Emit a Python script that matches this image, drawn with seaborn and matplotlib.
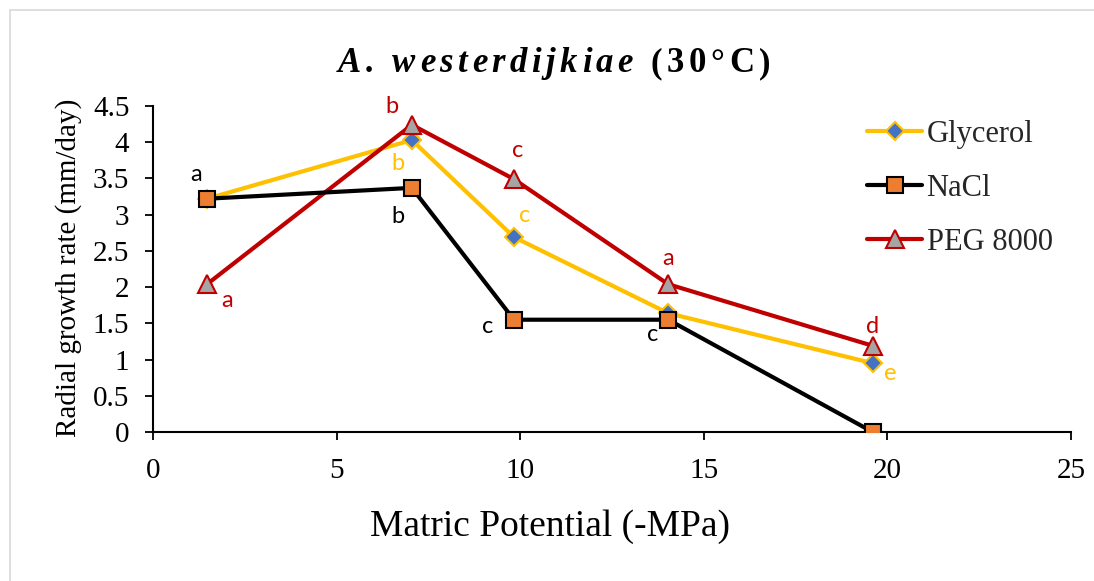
import matplotlib
matplotlib.use("Agg")
import matplotlib.pyplot as plt
import seaborn as sns
import pandas as pd
from matplotlib.patches import Rectangle
from matplotlib.transforms import IdentityTransform

# ---- data ----
matric_potential = [1.47, 7.05, 9.83, 14.03, 19.6]
glycerol = [3.22, 4.03, 2.69, 1.64, 0.95]
nacl = [3.22, 3.37, 1.55, 1.55, 0.0]
peg8000 = [2.04, 4.24, 3.49, 2.04, 1.19]
glycerol_letters = ["", "b", "c", "", "e"]
nacl_letters = ["a", "b", "c", "c", ""]
peg_letters = ["a", "b", "c", "a", "d"]
series_names = ["Glycerol", "NaCl", "PEG 8000"]
x_ticks = [0, 5, 10, 15, 20, 25]
y_ticks = [0, 0.5, 1, 1.5, 2, 2.5, 3, 3.5, 4, 4.5]
title_italic = "A. westerdijkiae"
title_plain = "(30°C)"

sns.set_theme(style="white")
plt.rcParams["font.family"] = ["Liberation Serif", "DejaVu Serif"]

W, H = 1094, 581
fig = plt.figure(figsize=(W / 100, H / 100), dpi=100)
ax = fig.add_axes([153 / W, 1 - 432 / H, (1071 - 153) / W, (432 - 106) / H])

# outer chart border
fig.patches.append(Rectangle((10 / W, -0.05), 1.2, 1 - 10 / H + 0.05, transform=fig.transFigure,
                             fill=False, edgecolor="#d9d9d9", linewidth=1.2))

df = pd.DataFrame({"x": matric_potential * 3,
                   "y": glycerol + nacl + peg8000,
                   "series": sum([[n] * len(matric_potential) for n in series_names], [])})

styles = {
    "Glycerol": dict(color="#FFC000", marker="D", markerfacecolor="#4472C4",
                     markeredgecolor="#FFC000", markersize=9, markeredgewidth=1.5),
    "NaCl": dict(color="black", marker="s", markerfacecolor="#ED7D31",
                 markeredgecolor="black", markersize=11.5, markeredgewidth=1.5),
    "PEG 8000": dict(color="#C00000", marker="^", markerfacecolor="#A5A5A5",
                     markeredgecolor="#C00000", markersize=12.5, markeredgewidth=1.5),
}
order_draw = ["Glycerol", "PEG 8000", "NaCl"]
handles = {}
for name in order_draw:
    sub = df[df["series"] == name]
    sns.lineplot(data=sub, x="x", y="y", ax=ax, linewidth=3, label=name,
                 estimator=None, sort=False, zorder=3, **styles[name])
    handles[name] = ax.get_lines()[-1]

# significance letters
offsets = {
    "Glycerol": [(0, 0), (-14, -23), (11, 22), (0, 0), (18, -10)],
    "NaCl": [(-11, 24), (-14, -29), (-26, -7), (-16, -15), (0, 0)],
    "PEG 8000": [(20, -16), (-20, 18), (4, 29), (0, 26), (0, 19)],
}
letters = {"Glycerol": glycerol_letters, "NaCl": nacl_letters, "PEG 8000": peg_letters}
values = {"Glycerol": glycerol, "NaCl": nacl, "PEG 8000": peg8000}
for name in series_names:
    for xi, yi, lab, off in zip(matric_potential, values[name], letters[name], offsets[name]):
        if lab:
            ax.annotate(lab, (xi, yi), xytext=off, textcoords="offset pixels",
                        ha="center", va="center", fontsize=17, color=styles[name]["color"],
                        family=["Lato", "DejaVu Sans"], zorder=5)

ax.set_xlim(0, 25)
ax.set_ylim(0, 4.5)
ax.set_xticks(x_ticks)
ax.set_yticks(y_ticks)
ax.set_xticklabels([str(t) for t in x_ticks])
ax.set_yticklabels([f"{t:g}" for t in y_ticks])
ax.tick_params(axis="both", which="major", direction="out", length=6, width=1.3,
               colors="black", labelsize=21, bottom=True, left=True)
ax.tick_params(axis="x", pad=13)
ax.tick_params(axis="y", pad=11)
for s in ["top", "right"]:
    ax.spines[s].set_visible(False)
for s in ["left", "bottom"]:
    ax.spines[s].set_color("black")
    ax.spines[s].set_linewidth(1.5)
ax.set_facecolor("white")

ax.set_xlabel("Matric Potential (-MPa)", fontsize=27, color="black", va="center")
ax.xaxis.set_label_coords((550 - 153) / 918, (432 - 527) / 326)
ax.set_ylabel("Radial growth rate (mm/day)", fontsize=21, color="black", va="center")
ax.yaxis.set_label_coords((69 - 153) / 918, (432 - 268) / 326)

leg = ax.legend(handles=[handles[n] for n in series_names], labels=series_names,
                loc="upper left", bbox_to_anchor=((867 - 153) / 918, (432 - 120) / 326),
                frameon=False, borderaxespad=0, borderpad=0,
                fontsize=22, handlelength=1.8, handletextpad=0.15, labelspacing=0.82)

# letter-spaced title drawn character by character (pixel coordinates)
renderer = fig.canvas.get_renderer()
title_fs = 25
spacing = 4.5
space_w = 9
chars = [(c, "italic") for c in title_italic] + [(" ", "normal")] + [(c, "normal") for c in title_plain]
widths = []
for c, st in chars:
    if c == " ":
        widths.append(space_w)
        continue
    t = fig.text(0, 0, c, fontsize=title_fs, fontweight="bold", fontstyle=st)
    widths.append(t.get_window_extent(renderer).width)
    t.remove()
total = sum(widths) + spacing * (len(chars) - 1)
x = 554 - total / 2
y = H - 60
for (c, st), w in zip(chars, widths):
    if c != " ":
        fig.text(x, y, c, fontsize=title_fs, fontweight="bold", fontstyle=st,
                 transform=IdentityTransform(), ha="left", va="center_baseline", color="black")
    x += w + spacing

fig.savefig("out.png", dpi=100, facecolor="white")
